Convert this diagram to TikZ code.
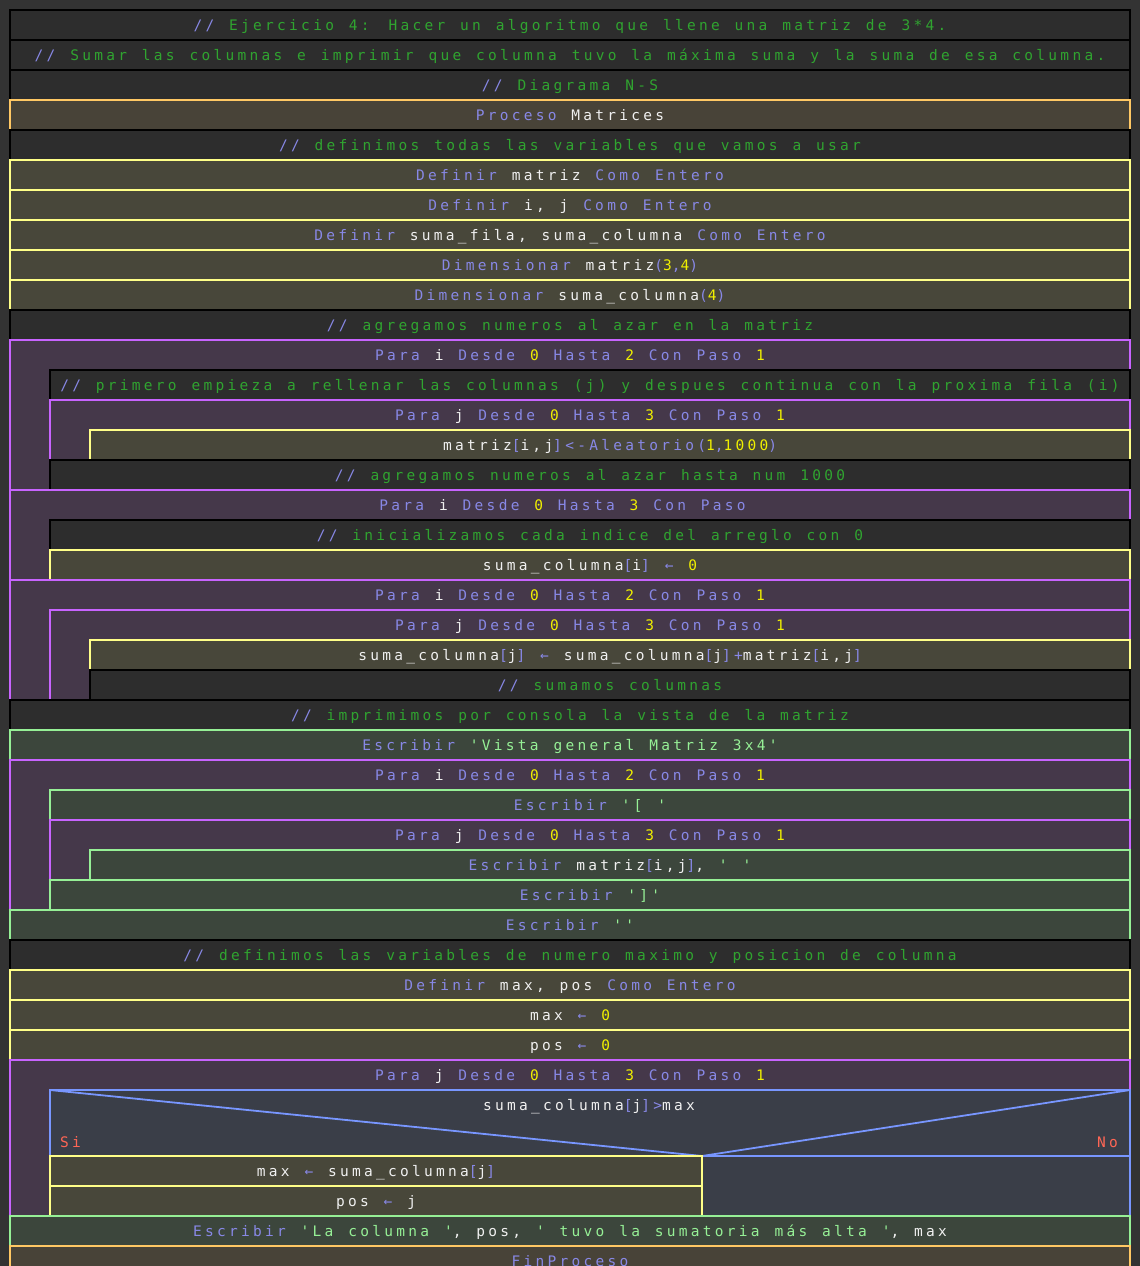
\documentclass[tikz,border=0pt]{standalone}
\usepackage{fontspec}
\newfontfamily\codefont{DejaVu Sans Mono}[LetterSpace=22.6, WordSpace={1.24,0,0}]

\definecolor{bgcol}{HTML}{333333}
\definecolor{notefill}{HTML}{2D2D2D}
\definecolor{procfill}{HTML}{484338}
\definecolor{procline}{HTML}{FFC864}
\definecolor{asgfill}{HTML}{48473A}
\definecolor{asgline}{HTML}{FFFF88}
\definecolor{loopfill}{HTML}{45384A}
\definecolor{loopline}{HTML}{C864FF}
\definecolor{outfill}{HTML}{3C463C}
\definecolor{outln}{HTML}{96F096}
\definecolor{iffill}{HTML}{3A3E48}
\definecolor{ifline}{HTML}{7896FF}
\definecolor{kwcol}{HTML}{8888E6}
\definecolor{idcol}{HTML}{F0F0F0}
\definecolor{numcol}{HTML}{F0F000}
\definecolor{strcol}{HTML}{96F096}
\definecolor{cmtcol}{HTML}{30A430}
\definecolor{sinocol}{HTML}{FF6655}

\newcommand\kw[1]{\textcolor{kwcol}{#1}}
\newcommand\numv[1]{\textcolor{numcol}{#1}}
\newcommand\strv[1]{\textcolor{strcol}{#1}}
\newcommand\comm[1]{\textcolor{kwcol}{//} \textcolor{cmtcol}{#1}}
\newcommand\forhead[4]{\kw{Para} #1 \kw{Desde} \numv{#2} \kw{Hasta} \numv{#3} \kw{Con Paso} \numv{#4}}
\newcommand\codesize{\codefont\fontsize{14.5}{16}\selectfont}

\begin{document}
\begin{tikzpicture}[
    x=1pt, y=-1pt,
    code/.style={font=\codesize, text=idcol, text height=10.5pt, text depth=0pt, inner sep=0pt},
    row/.style={code, rectangle, anchor=north west, minimum height=30pt, outer sep=0pt, line width=1.6pt},
    lv0/.style={minimum width=1120pt},
    lv1/.style={minimum width=1080pt},
    lv2/.style={minimum width=1040pt},
    note/.style={row, fill=notefill, draw=black},
    proc/.style={row, fill=procfill, draw=procline},
    asg/.style={row, fill=asgfill, draw=asgline},
    loopbox/.style={row, fill=loopfill, draw=loopline},
    loophead/.style={row},
    outbox/.style={row, fill=outfill, draw=outln},
    ifbox/.style={row, fill=iffill, draw=ifline},
    branch/.style={code, text=sinocol}
]
\useasboundingbox (0,0) rectangle (1140,1266);
\fill[bgcol] (0,0) rectangle (1140,1266);
\clip (0,0) rectangle (1140,1266);

\node[note, lv0] (c1) at (10,10) {\comm{Ejercicio 4: Hacer un algoritmo que llene una matriz de 3*4.}};
\node[note, lv0] (c2) at (10,40) {\comm{Sumar las columnas e imprimir que columna tuvo la máxima suma y la suma de esa columna.}};
\node[note, lv0] (c3) at (10,70) {\comm{Diagrama N-S}};
\node[proc, lv0] (proc) at (10,100) {\kw{Proceso} Matrices};
\node[note, lv0] (c4) at (10,130) {\comm{definimos todas las variables que vamos a usar}};
\node[asg, lv0] (d1) at (10,160) {\kw{Definir} matriz \kw{Como Entero}};
\node[asg, lv0] (d2) at (10,190) {\kw{Definir} i, j \kw{Como Entero}};
\node[asg, lv0] (d3) at (10,220) {\kw{Definir} suma\_fila, suma\_columna \kw{Como Entero}};
\node[asg, lv0] (dim1) at (10,250) {\kw{Dimensionar} matriz\kw{(}\numv{3}\kw{,}\numv{4}\kw{)}};
\node[asg, lv0] (dim2) at (10,280) {\kw{Dimensionar} suma\_columna\kw{(}\numv{4}\kw{)}};
\node[note, lv0] (c5) at (10,310) {\comm{agregamos numeros al azar en la matriz}};

% llenar la matriz
\node[loopbox, lv0, minimum height=150pt] (forA) at (10,340) {};
\node[loophead, lv0] (forAh) at (10,340) {\forhead{i}{0}{2}{1}};
\node[note, lv1] (c6) at (50,370) {\comm{primero empieza a rellenar las columnas (j) y despues continua con la proxima fila (i)}};
\node[loopbox, lv1, minimum height=60pt] (forB) at (50,400) {};
\node[loophead, lv1] (forBh) at (50,400) {\forhead{j}{0}{3}{1}};
\node[asg, lv2] (rand) at (90,430) {matriz\kw{[}i,j\kw{]<-Aleatorio(}\numv{1}\kw{,}\numv{1000}\kw{)}};
\node[note, lv1] (c7) at (50,460) {\comm{agregamos numeros al azar hasta num 1000}};

% inicializar
\node[loopbox, lv0, minimum height=90pt] (forC) at (10,490) {};
\node[loophead, lv0] (forCh) at (10,490) {\forhead{i}{0}{3}{}};
\node[note, lv1] (c8) at (50,520) {\comm{inicializamos cada indice del arreglo con 0}};
\node[asg, lv1] (init) at (50,550) {suma\_columna\kw{[}i\kw{]} \kw{←} \numv{0}};

% sumar columnas
\node[loopbox, lv0, minimum height=120pt] (forD) at (10,580) {};
\node[loophead, lv0] (forDh) at (10,580) {\forhead{i}{0}{2}{1}};
\node[loopbox, lv1, minimum height=90pt] (forE) at (50,610) {};
\node[loophead, lv1] (forEh) at (50,610) {\forhead{j}{0}{3}{1}};
\node[asg, lv2] (acc) at (90,640) {suma\_columna\kw{[}j\kw{]} \kw{←} suma\_columna\kw{[}j\kw{]+}matriz\kw{[}i,j\kw{]}};
\node[note, lv2] (c9) at (90,670) {\comm{sumamos columnas}};
\node[note, lv0] (c10) at (10,700) {\comm{imprimimos por consola la vista de la matriz}};
\node[outbox, lv0] (w1) at (10,730) {\kw{Escribir} \strv{'Vista general Matriz 3x4'}};

% imprimir
\node[loopbox, lv0, minimum height=150pt] (forF) at (10,760) {};
\node[loophead, lv0] (forFh) at (10,760) {\forhead{i}{0}{2}{1}};
\node[outbox, lv1] (w2) at (50,790) {\kw{Escribir} \strv{'[ '}};
\node[loopbox, lv1, minimum height=60pt] (forG) at (50,820) {};
\node[loophead, lv1] (forGh) at (50,820) {\forhead{j}{0}{3}{1}};
\node[outbox, lv2] (w3) at (90,850) {\kw{Escribir} matriz\kw{[}i,j\kw{]}, \strv{' '}};
\node[outbox, lv1] (w4) at (50,880) {\kw{Escribir} \strv{']'}};
\node[outbox, lv0] (w5) at (10,910) {\kw{Escribir} \strv{''}};
\node[note, lv0] (c11) at (10,940) {\comm{definimos las variables de numero maximo y posicion de columna}};
\node[asg, lv0] (d4) at (10,970) {\kw{Definir} max, pos \kw{Como Entero}};
\node[asg, lv0] (a1) at (10,1000) {max \kw{←} \numv{0}};
\node[asg, lv0] (a2) at (10,1030) {pos \kw{←} \numv{0}};

% buscar el maximo
\node[loopbox, lv0, minimum height=156pt] (forH) at (10,1060) {};
\node[loophead, lv0] (forHh) at (10,1060) {\forhead{j}{0}{3}{1}};
\node[ifbox, lv1, minimum height=126pt] (cond) at (50,1090) {};
\coordinate (fork) at (702,1156);
\coordinate (forkR) at (cond.east |- fork);
\draw[ifline, line width=1.8pt] (cond.north west) -- (fork) -- (cond.north east);
\draw[ifline, line width=1.6pt] (fork) -- (forkR);
\node[code] (condtxt) at (589,1105.5) {suma\_columna\kw{[}j\kw{]>}max};
\node[branch, anchor=west] (si) at (60,1142) {Si};
\node[branch, anchor=east] (no) at (1118,1142) {No};
\node[asg, minimum width=652pt] (t1) at (50,1156) {max \kw{←} suma\_columna\kw{[}j\kw{]}};
\node[asg, minimum width=652pt] (t2) at (50,1186) {pos \kw{←} j};

\node[outbox, lv0] (w6) at (10,1216) {\kw{Escribir} \strv{'La columna '}, pos, \strv{' tuvo la sumatoria más alta '}, max};
\node[proc, lv0] (endp) at (10,1246) {\kw{FinProceso}};
\end{tikzpicture}
\end{document}
